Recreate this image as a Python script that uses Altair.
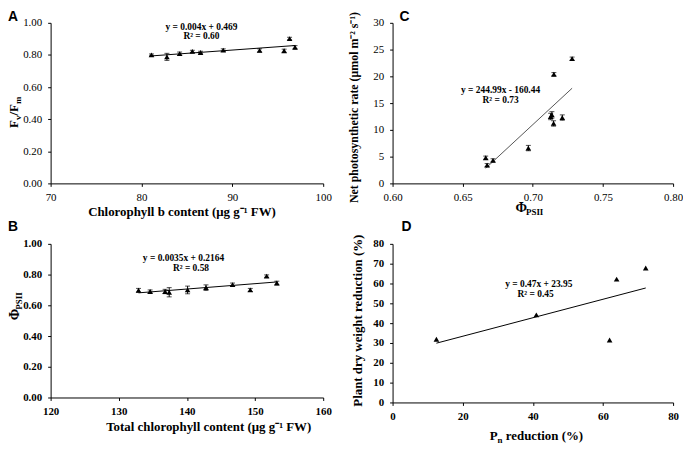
import altair as alt
import pandas as pd

SERIF = "Liberation Serif"
SANS = "Liberation Sans"

# ---------------- Panel A : Fv/Fm vs chlorophyll b ----------------
a_x = [81.1, 82.8, 84.2, 85.6, 86.5, 89.0, 93.0, 95.7, 96.3, 96.9]
a_y = [0.800, 0.788, 0.808, 0.822, 0.815, 0.830, 0.828, 0.826, 0.902, 0.848]
a_err = [0.006, 0.022, 0.010, 0.007, 0.008, 0.008, 0.010, 0.010, 0.008, 0.010]
a_eq = ["y = 0.004x + 0.469", "R² = 0.60"]
a_eq_x = [86.6, 86.6]
a_eq_y = [0.975, 0.918]
a_xticks = [70, 80, 90, 100]
a_yticks = [0.0, 0.2, 0.4, 0.6, 0.8, 1.0]

# ---------------- Panel B : PhiPSII vs total chlorophyll ----------------
b_x = [132.9, 134.6, 136.8, 137.4, 140.1, 142.8, 146.7, 149.3, 151.7, 153.2]
b_y = [0.698, 0.690, 0.690, 0.685, 0.700, 0.715, 0.735, 0.700, 0.790, 0.745]
b_err = [0.012, 0.010, 0.014, 0.030, 0.025, 0.018, 0.010, 0.010, 0.008, 0.012]
b_eq = ["y = 0.0035x + 0.2164", "R² = 0.58"]
b_eq_x = [139.5, 140.6]
b_eq_y = [0.905, 0.842]
b_xticks = [120, 130, 140, 150, 160]
b_yticks = [0.0, 0.2, 0.4, 0.6, 0.8, 1.0]

# ---------------- Panel C : Pn vs PhiPSII ----------------
c_x = [0.6664, 0.6674, 0.6716, 0.6968, 0.7127, 0.7136, 0.7148, 0.7150, 0.7210, 0.7280]
c_y = [4.8, 3.4, 4.3, 6.6, 12.5, 12.8, 11.2, 20.4, 12.3, 23.3]
c_err = [0.3, 0.3, 0.3, 0.5, 0.6, 0.6, 0.5, 0.3, 0.5, 0.3]
c_eq = ["y = 244.99x - 160.44", "R² = 0.73"]
c_eq_x = [0.677, 0.677]
c_eq_y = [17.5, 15.6]
c_xticks = [0.60, 0.65, 0.70, 0.75, 0.80]
c_yticks = [0, 5, 10, 15, 20, 25, 30]

# ---------------- Panel D : dry weight reduction vs Pn reduction ----------------
d_x = [12.5, 41.0, 61.9, 63.9, 72.2]
d_y = [31.9, 44.2, 31.5, 62.2, 67.8]
d_eq = ["y = 0.47x + 23.95", "R² = 0.45"]
d_eq_x = [41.7, 40.8]
d_eq_y = [59.5, 54.6]
d_xticks = [0, 20, 40, 60, 80]
d_yticks = [0, 10, 20, 30, 40, 50, 60, 70, 80]


def make_axis(ticks, fmt, bold, title="", tx=None, ty=None, angle=None, pad=5, tsize=13):
    kw = dict(values=ticks, format=fmt, grid=False, domainColor="black",
              domainWidth=1, tickColor="black", tickSize=3, labelFont=SERIF,
              labelFontSize=11, labelFontWeight="bold" if bold else "normal",
              labelColor="black", labelPadding=pad, labelFlush=False,
              labelOverlap=False, title=title)
    if title:
        kw.update(titleFont=SERIF, titleFontWeight="bold", titleColor="black",
                  titleFontSize=tsize, titleAlign="center", titleBaseline="middle",
                  titleX=tx, titleY=ty)
        if angle is not None:
            kw.update(titleAngle=angle)
    return alt.Axis(**kw)


def seg(text, x, y, size, dx=0, dy=0, angle=0):
    return alt.Chart(pd.DataFrame({"t": [text]})).mark_text(
        font=SERIF, fontWeight="bold", fontSize=size, align="left",
        baseline="alphabetic", angle=angle, dx=dx, dy=dy, color="black"
    ).encode(x=alt.value(x), y=alt.value(y), text="t:N")


def letter(ch, x, y):
    return alt.Chart(pd.DataFrame({"t": [ch]})).mark_text(
        font=SANS, fontWeight="bold", fontSize=14, align="left",
        baseline="top", color="black"
    ).encode(x=alt.value(x), y=alt.value(y), text="t:N")


def panel(xs, ys, errs, xdom, ydom, xaxis, yaxis, eq, eqx, eqy, w, h,
          line_color, extras):
    xscale = alt.Scale(domain=xdom, nice=False, zero=False)
    yscale = alt.Scale(domain=ydom, nice=False, zero=False)
    X = alt.X("x:Q", scale=xscale, axis=xaxis)
    Y = alt.Y("y:Q", scale=yscale, axis=yaxis)
    df = pd.DataFrame({"x": xs, "y": ys})
    layers = []
    if errs is not None:
        df["lo"] = [v - e for v, e in zip(ys, errs)]
        df["hi"] = [v + e for v, e in zip(ys, errs)]
        eb = alt.Chart(df)
        layers.append(eb.mark_rule(color="black", strokeWidth=1).encode(
            x=X, y=alt.Y("lo:Q", scale=yscale, axis=yaxis), y2="hi:Q"))
        layers.append(eb.mark_tick(orient="horizontal", size=5, thickness=1, color="black").encode(
            x=X, y=alt.Y("lo:Q", scale=yscale, axis=yaxis)))
        layers.append(eb.mark_tick(orient="horizontal", size=5, thickness=1, color="black").encode(
            x=X, y=alt.Y("hi:Q", scale=yscale, axis=yaxis)))
    base = alt.Chart(df)
    layers.append(base.transform_regression("x", "y").mark_line(
        color=line_color, strokeWidth=1).encode(x=X, y=Y))
    layers.append(base.mark_point(shape="triangle-up", filled=True, color="black",
                                  opacity=1, size=32).encode(x=X, y=Y))
    eqdf = pd.DataFrame({"x": eqx, "y": eqy, "t": eq})
    layers.append(alt.Chart(eqdf).mark_text(
        font=SERIF, fontWeight="bold", fontSize=9.5, color="black",
        align="center", baseline="middle").encode(x=X, y=Y, text="t:N"))
    layers.extend(extras)
    return alt.layer(*layers).properties(width=w, height=h)


COL1_W = 275
COL2_W = 283

# ---- Panel A ----
A_H = 162
ax_a = make_axis(a_xticks, "d", False, "Chlorophyll b content (μg g⁻¹  FW)", 132, 28)
ay_a = make_axis(a_yticks, ".2f", False, pad=6)
extras_a = [
    letter("A", -43, -13),
    seg("F", -33, 106, 13, 0, 0, 270),
    seg("v", -33, 106, 9, 7.9, 3, 270),
    seg("/F", -33, 106, 13, 12.4, 0, 270),
    seg("m", -33, 106, 9, 24.0, 3, 270),
]
pA = panel(a_x, a_y, a_err, [70, 100], [0, 1], ax_a, ay_a, a_eq, a_eq_x, a_eq_y,
           COL1_W, A_H, "black", extras_a)

# ---- Panel C ----
C_H = 162
ax_c = make_axis(c_xticks, ".2f", False)
ay_c = make_axis(c_yticks, "d", False, "Net photosynthetic rate (μmol  m⁻² s⁻¹)",
                 -39, 85, 270, pad=6, tsize=12)
extras_c = [
    letter("C", 7, -13),
    seg("Φ", 124, 191, 14, 0, 0),
    seg("PSII", 124, 191, 9, 10.6, 3),
]
pC = panel(c_x, c_y, c_err, [0.6, 0.8], [0, 30], ax_c, ay_c, c_eq, c_eq_x, c_eq_y,
           COL2_W, C_H, "#555555", extras_c)

# ---- Panel B ----
B_H = 155
ax_b = make_axis(b_xticks, "d", True, "Total chlorophyll content (μg g⁻¹  FW)", 159, 29)
ay_b = make_axis(b_yticks, ".2f", True, pad=6)
extras_b = [
    letter("B", -43, -24),
    seg("Φ", -32, 77, 14, 0, 0, 270),
    seg("PSII", -32, 77, 9, 10.6, 3, 270),
]
pB = panel(b_x, b_y, b_err, [120, 160], [0, 1], ax_b, ay_b, b_eq, b_eq_x, b_eq_y,
           COL1_W, B_H, "black", extras_b)

# ---- Panel D ----
D_H = 160
ax_d = make_axis(d_xticks, "d", True)
ay_d = make_axis(d_yticks, "d", True, "Plant dry weight reduction (%)", -35, 77, 270, pad=6)
extras_d = [
    letter("D", 9, -24),
    seg("P", 98, 198, 13, 0, 0),
    seg("n", 98, 198, 9, 7.9, 3),
    seg("reduction (%)", 98, 198, 13, 16.2, 0),
]
pD = panel(d_x, d_y, None, [0, 80], [0, 80], ax_d, ay_d, d_eq, d_eq_x, d_eq_y,
           COL2_W, D_H, "black", extras_d)

chart = alt.concat(pA, pC, pB, pD, columns=2, bounds="flush", align="each",
                   spacing={"row": 61, "column": 70}).properties(
    padding=0, background="white"
).configure_view(stroke=None)

chart.save("out.html", embed_options={"renderer": "svg", "actions": False})
